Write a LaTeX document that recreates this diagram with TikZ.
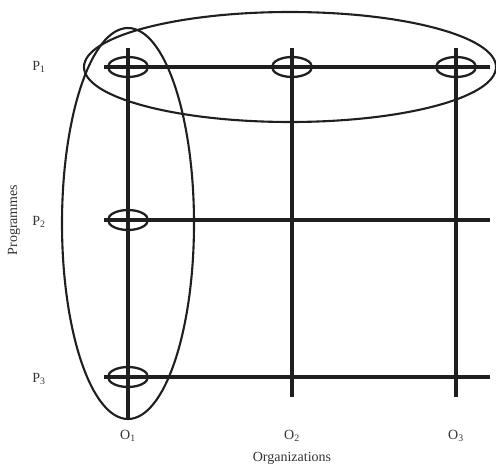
\documentclass[tikz,border=0pt]{standalone}
\usepackage{fontspec}
\setmainfont{Liberation Serif}
\usetikzlibrary{shapes.geometric}
\begin{document}
\begin{tikzpicture}[x=1pt,y=-1pt,
  gridline/.style={line width=3.2pt,color=black!88},
  ring/.style={draw,ellipse,line width=2.3pt,color=black!88,minimum width=40pt,minimum height=20pt,inner sep=0pt},
  bigring/.style={draw,ellipse,line width=2.1pt,color=black!88,inner sep=0pt},
  lab/.style={font=\fontsize{14}{16}\selectfont,text=black!80,inner sep=0pt}]
\useasboundingbox (0,0) rectangle (496,465);
% grid end points
\coordinate (o1t) at (128,48);  \coordinate (o1b) at (128,418);
\coordinate (o2t) at (292,48);  \coordinate (o2b) at (292,397);
\coordinate (o3t) at (456,48);  \coordinate (o3b) at (456,397);
\coordinate (p1l) at (104,67);  \coordinate (p1r) at (490,67);
\coordinate (p2l) at (104,220); \coordinate (p2r) at (490,220);
\coordinate (p3l) at (104,377); \coordinate (p3r) at (490,377);
\draw[gridline] (o1t) -- (o1b);
\draw[gridline] (o2t) -- (o2b);
\draw[gridline] (o3t) -- (o3b);
\draw[gridline] (p1l) -- (p1r);
\draw[gridline] (p2l) -- (p2r);
\draw[gridline] (p3l) -- (p3r);
% small rings
\node[ring] (r11) at (128,67) {};
\node[ring] (r12) at (292,67) {};
\node[ring] (r13) at (456,67) {};
\node[ring] (r21) at (128,220) {};
\node[ring] (r31) at (128,377) {};
% big rings
\node[bigring,minimum width=412pt,minimum height=110pt] (rowring) at (290,67) {};
\node[bigring,minimum width=132pt,minimum height=391pt] (colring) at (128,223.5) {};
% labels
\node[lab] (lp1) at (39,67) {P\textsubscript{1}};
\node[lab] (lp2) at (39,222) {P\textsubscript{2}};
\node[lab] (lp3) at (39,379) {P\textsubscript{3}};
\node[lab] (lo1) at (128,436) {O\textsubscript{1}};
\node[lab] (lo2) at (292,436) {O\textsubscript{2}};
\node[lab] (lo3) at (456,436) {O\textsubscript{3}};
\node[lab] (lorg) at (292,458) {Organizations};
\node[lab,rotate=90] (lprog) at (14,220) {Programmes};
\end{tikzpicture}
\end{document}
